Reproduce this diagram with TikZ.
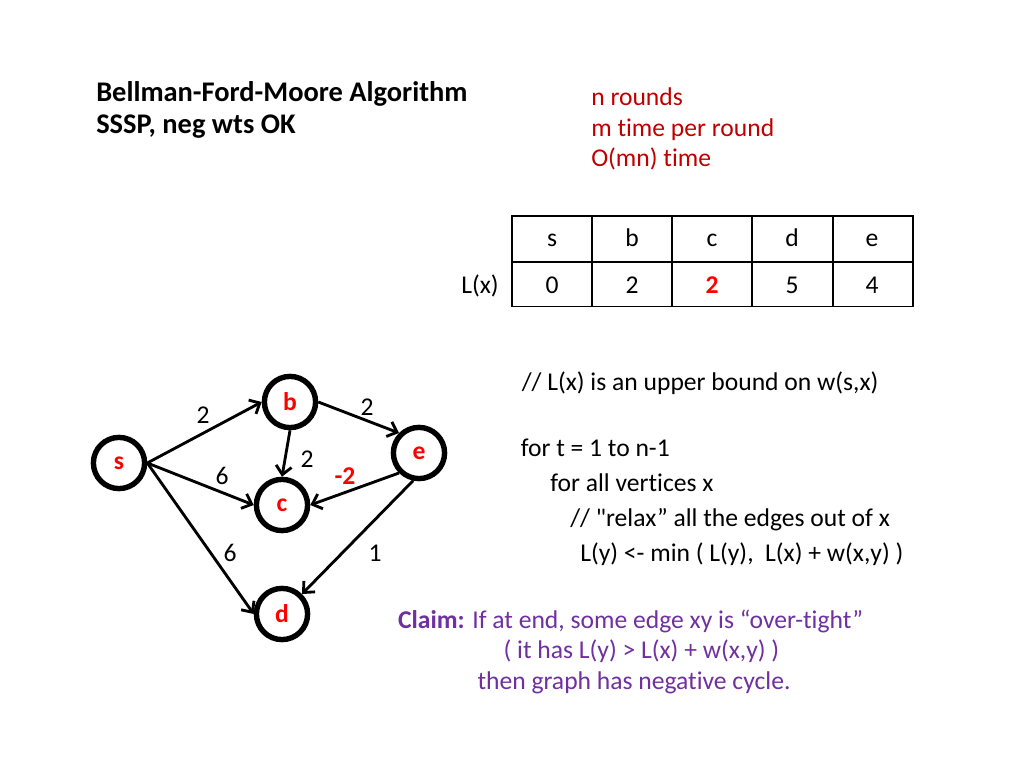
\documentclass[tikz,border=0pt]{standalone}
\usepackage{fontspec}
\setmainfont{Carlito}[Ligatures={TeX,NoCommon}]
\usetikzlibrary{arrows.meta}

\definecolor{darkred}{RGB}{192,0,0}
\definecolor{vred}{RGB}{255,0,0}
\definecolor{claimpurple}{RGB}{112,48,160}

\newcommand{\eighteen}{\fontsize{18}{21.6}\selectfont}
\newcommand{\twenty}{\fontsize{20}{24}\selectfont}

\tikzset{
  vertex/.style={circle,draw=black,fill=white,line width=3.8pt,minimum size=36pt,inner sep=0pt,font=\eighteen\bfseries,text=vred},
  edge/.style={line width=2pt,-{Straight Barb[length=6pt,width=11pt]}},
  weight/.style={font=\eighteen},
  cell/.style={anchor=base,font=\eighteen},
  line/.style={anchor=base west,inner sep=0pt},
  claimline/.style={anchor=base,inner sep=0pt,font=\eighteen,text=claimpurple},
}

\begin{document}
\begin{tikzpicture}[x=0.703125pt,y=-0.703125pt]
\path[fill=white,use as bounding box] (0,0) rectangle (1024,768);
% the title
\node[line,font=\twenty\bfseries] (title) at (96,101.7) {Bellman-Ford-Moore Algorithm};
\node[line,font=\twenty\bfseries] (subtitle) at (96,133.3) {SSSP, neg wts OK};
% the running time
\node[line,font=\eighteen,text=darkred] (rounds) at (591,106) {n rounds};
\node[line,font=\eighteen,text=darkred] (perround) at (591,136.5) {m time per round};
\node[line,font=\eighteen,text=darkred] (total) at (591,167) {O(mn) time};
% the table and its lines
\draw[line width=0.8pt] (512,216) rectangle (913,306.7);
\draw[line width=0.8pt] (512,262) -- (913,262);
\foreach \x in {592,672,752,833}
  \draw[line width=0.8pt] (\x,216) -- (\x,306.7);
\foreach \v/\l [count=\i] in {s/0,b/2,c/{\textcolor{vred}{\bfseries 2}},d/5,e/4}{
  \node[cell] (head-\v) at (472+80*\i,246.7) {\v};
  \node[cell] (val-\v) at (472+80*\i,293) {\l};
}
\node[anchor=base east,font=\eighteen,inner sep=0pt] (rowlabel) at (499,293) {L(x)};
% the graph
\node[vertex] (s) at (119,463) {s};
\node[vertex] (b) at (290,402) {b};
\node[vertex] (e) at (419,453) {e};
\node[vertex] (c) at (282,505) {c};
\node[vertex] (d) at (282,614) {d};
\draw[edge] (s.east) -- (b.west);
\draw[edge] (s.east) -- (c.west);
\draw[edge] (s.east) -- (d.west);
\draw[edge] (b.east) -- (e.north west);
\draw[edge] (b.south) -- (c.north);
\draw[edge] (e.south west) -- (c.east);
\draw[edge] (e.258) -- (d.north east);
% the weights
\node[weight] (w-sb) at (203,415) {2};
\node[weight] (w-be) at (367,407) {2};
\node[weight] (w-bc) at (307,459) {2};
\node[weight] (w-sc) at (222,476) {6};
\node[weight,text=vred,font=\eighteen\bfseries] (w-ec) at (345,476) {-2};
\node[weight] (w-sd) at (230,553) {6};
\node[weight] (w-ed) at (375,553) {1};
% the algorithm
\node[line,font=\eighteen] (comment) at (521.5,390) {// L(x) is an upper bound on w(s,x)};
\node[line,font=\eighteen] (outer) at (520.5,456.7) {for t = 1 to n-1};
\node[line,font=\eighteen] (inner) at (550,491.7) {for all vertices x};
\node[line,font=\eighteen] (relax) at (570,526.7) {// \textquotedbl relax” all the edges out of x};
\node[line,font=\eighteen] (update) at (580,561) {L(y) <- min ( L(y),~ L(x) + w(x,y) )};
% the claim
\node[claimline] (claim) at (630.5,628) {\textbf{Claim:} If at end, some edge xy is “over-tight”};
\node[claimline] (claim-2) at (641.5,658.5) {( it has L(y) > L(x) + w(x,y) )};
\node[claimline] (claim-3) at (634,689) {then graph has negative cycle.};
\end{tikzpicture}
\end{document}
